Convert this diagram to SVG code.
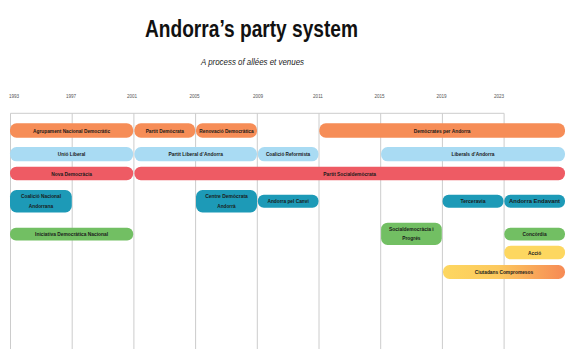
<svg xmlns="http://www.w3.org/2000/svg" width="566" height="349" viewBox="0 0 566 349">
<defs>
<linearGradient id="gCC" x1="0" y1="0" x2="1" y2="0">
<stop offset="0" stop-color="#FDD760"/>
<stop offset="0.45" stop-color="#FCC95E"/>
<stop offset="1" stop-color="#F68A55"/>
</linearGradient>
<style>
.bg{fill:#ffffff}
.grid line{stroke:#cccccc;stroke-width:1}
.yr{font-family:"Liberation Sans",Arial,sans-serif;font-size:4.6px;fill:#555555;text-anchor:middle}
.title{font-family:"Liberation Sans",Arial,sans-serif;font-weight:bold;font-size:24px;fill:#111111;text-anchor:middle}
.sub{font-family:"Liberation Sans",Arial,sans-serif;font-style:italic;font-size:8.6px;fill:#222222;text-anchor:middle}
.lb{font-family:"Liberation Sans",Arial,sans-serif;font-weight:bold;font-size:5.6px;fill:#1a1a1a;text-anchor:middle}
.or{fill:#F68D57}
.lbl{fill:#A9DBF3}
.rd{fill:#EE5B64}
.tl{fill:#1D9AB7}
.gr{fill:#72BF63}
.yl{fill:#FDD760}
</style>
</defs>
<rect class="bg" x="0" y="0" width="566" height="349"/>
<text class="title" x="251.5" y="36.7" textLength="213" lengthAdjust="spacingAndGlyphs">Andorra’s party system</text>
<text class="sub" x="252.5" y="65" textLength="103" lengthAdjust="spacingAndGlyphs">A process of allées et venues</text>
<g id="years">
<text class="yr" x="14" y="97.5">1993</text>
<text class="yr" x="71" y="97.5">1997</text>
<text class="yr" x="132" y="97.5">2001</text>
<text class="yr" x="194.5" y="97.5">2005</text>
<text class="yr" x="258" y="97.5">2009</text>
<text class="yr" x="318" y="97.5">2011</text>
<text class="yr" x="379.5" y="97.5">2015</text>
<text class="yr" x="441.5" y="97.5">2019</text>
<text class="yr" x="499" y="97.5">2023</text>
</g>
<g class="grid" id="grid">
<line x1="10.5" y1="113.3" x2="504.1" y2="113.3"/>
<line x1="10.5" y1="113.3" x2="10.5" y2="349"/>
<line x1="72.2" y1="113.3" x2="72.2" y2="349"/>
<line x1="133.9" y1="113.3" x2="133.9" y2="349"/>
<line x1="195.6" y1="113.3" x2="195.6" y2="349"/>
<line x1="257.3" y1="113.3" x2="257.3" y2="349"/>
<line x1="319" y1="113.3" x2="319" y2="349"/>
<line x1="380.7" y1="113.3" x2="380.7" y2="349"/>
<line x1="442.4" y1="113.3" x2="442.4" y2="349"/>
<line x1="504.1" y1="113.3" x2="504.1" y2="349"/>
</g>
<g id="agrupament-nacional-democratic"><rect class="or" x="10" y="123.3" width="123.2" height="14.4" rx="6.5"/><text class="lb" x="71.6" y="132.5" textLength="77" lengthAdjust="spacingAndGlyphs">Agrupament Nacional Democràtic</text></g>
<g id="partit-democrata"><rect class="or" x="134.4" y="123.3" width="60.8" height="14.4" rx="6.5"/><text class="lb" x="164.8" y="132.5" textLength="38.3" lengthAdjust="spacingAndGlyphs">Partit Demòcrata</text></g>
<g id="renovacio-democratica"><rect class="or" x="196" y="123.3" width="61" height="14.4" rx="6.5"/><text class="lb" x="226.5" y="132.5" textLength="54.3" lengthAdjust="spacingAndGlyphs">Renovació Democràtica</text></g>
<g id="democrates-per-andorra"><rect class="or" x="319.3" y="123.3" width="245.7" height="14.4" rx="6.5"/><text class="lb" x="442.2" y="132.5" textLength="56.7" lengthAdjust="spacingAndGlyphs">Demòcrates per Andorra</text></g>
<g id="unio-liberal"><rect class="lbl" x="10" y="147" width="123.2" height="14.3" rx="6.5"/><text class="lb" x="71.6" y="156.1" textLength="27.7" lengthAdjust="spacingAndGlyphs">Unió Liberal</text></g>
<g id="partit-liberal-andorra"><rect class="lbl" x="134.4" y="147" width="122.6" height="14.3" rx="6.5"/><text class="lb" x="195.7" y="156.1" textLength="54.4" lengthAdjust="spacingAndGlyphs">Partit Liberal d’Andorra</text></g>
<g id="coalicio-reformista"><rect class="lbl" x="257.8" y="147" width="60.7" height="14.3" rx="6.5"/><text class="lb" x="288.1" y="156.1" textLength="44.3" lengthAdjust="spacingAndGlyphs">Coalició Reformista</text></g>
<g id="liberals-andorra"><rect class="lbl" x="381.1" y="147" width="183.9" height="14.3" rx="6.5"/><text class="lb" x="473" y="156.1" textLength="43" lengthAdjust="spacingAndGlyphs">Liberals d’Andorra</text></g>
<g id="nova-democracia"><rect class="rd" x="10" y="166.7" width="123.2" height="13.5" rx="6.5"/><text class="lb" x="71.6" y="175.5" textLength="40.7" lengthAdjust="spacingAndGlyphs">Nova Democràcia</text></g>
<g id="partit-socialdemocrata"><rect class="rd" x="134.4" y="166.7" width="430.6" height="13.5" rx="6.5"/><text class="lb" x="349.7" y="175.5" textLength="52.7" lengthAdjust="spacingAndGlyphs">Partit Socialdemòcrata</text></g>
<g id="coalicio-nacional-andorrana"><rect class="tl" x="10" y="190" width="61.8" height="22.5" rx="6.5"/><text class="lb" x="41" y="197.7" textLength="40" lengthAdjust="spacingAndGlyphs">Coalició Nacional</text><text class="lb" x="41" y="207.7" textLength="24.3" lengthAdjust="spacingAndGlyphs">Andorrana</text></g>
<g id="centre-democrata-andorra"><rect class="tl" x="196" y="190" width="61" height="22.5" rx="6.5"/><text class="lb" x="226.5" y="197.7" textLength="42.7" lengthAdjust="spacingAndGlyphs">Centre Demòcrata</text><text class="lb" x="226.5" y="207.7" textLength="18.3" lengthAdjust="spacingAndGlyphs">Andorrà</text></g>
<g id="andorra-pel-canvi"><rect class="tl" x="257.8" y="194.7" width="60.7" height="13" rx="6"/><text class="lb" x="288.1" y="203.2" textLength="41.3" lengthAdjust="spacingAndGlyphs">Andorra pel Canvi</text></g>
<g id="terceravia"><rect class="tl" x="442.6" y="194.7" width="60.9" height="13" rx="6"/><text class="lb" x="473" y="203.2" textLength="25" lengthAdjust="spacingAndGlyphs">Terceravia</text></g>
<g id="andorra-endavant"><rect class="tl" x="504.3" y="194.7" width="60.7" height="13" rx="6"/><text class="lb" x="534.6" y="203.2" textLength="51" lengthAdjust="spacingAndGlyphs">Andorra Endavant</text></g>
<g id="iniciativa-democratica-nacional"><rect class="gr" x="10" y="227.7" width="123.2" height="12.7" rx="6"/><text class="lb" x="71.6" y="236" textLength="73" lengthAdjust="spacingAndGlyphs">Iniciativa Democràtica Nacional</text></g>
<g id="socialdemocracia-i-progres"><rect class="gr" x="381.1" y="222.7" width="60.7" height="22.3" rx="6.5"/><text class="lb" x="411.4" y="230.7" textLength="44.7" lengthAdjust="spacingAndGlyphs">Socialdemocràcia i</text><text class="lb" x="411.4" y="240.3" textLength="18.3" lengthAdjust="spacingAndGlyphs">Progrés</text></g>
<g id="concordia"><rect class="gr" x="504.3" y="227.7" width="60.7" height="12.7" rx="6"/><text class="lb" x="534.6" y="236" textLength="24" lengthAdjust="spacingAndGlyphs">Concòrdia</text></g>
<g id="accio"><rect class="yl" x="504.3" y="245.7" width="60.7" height="13.6" rx="6.5"/><text class="lb" x="534.6" y="254.5" textLength="13" lengthAdjust="spacingAndGlyphs">Acció</text></g>
<g id="ciutadans-compromesos"><rect fill="url(#gCC)" x="443" y="265" width="122" height="14" rx="6.5"/><text class="lb" x="504" y="274" textLength="58.3" lengthAdjust="spacingAndGlyphs">Ciutadans Compromesos</text></g>
</svg>
